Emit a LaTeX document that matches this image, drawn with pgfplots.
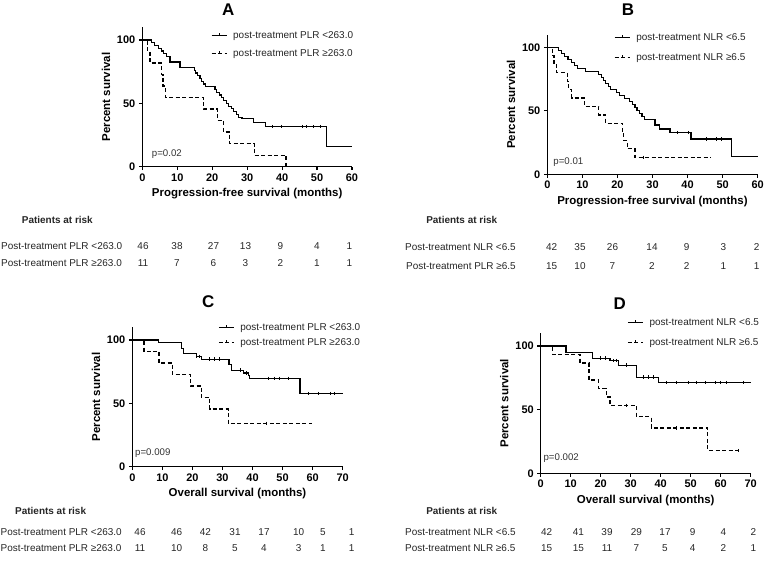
\documentclass[border=0pt]{standalone}
\usepackage{pgfplots}
\pgfplotsset{compat=1.18}
\usepackage{fontspec}
\setmainfont{Liberation Sans}
\newcommand{\lf}{\fontsize{10}{12}\selectfont}
\pgfplotsset{
 km/.style={
   scale only axis, axis lines=left, axis line style={-, line width=1.4bp},
   tick align=outside, major tick length=3.5bp, tick style={line width=1.2bp, black},
   ymin=0, ymax=110, ytick={0,50,100}, xmin=0, clip=false,
   tick label style={font=\bfseries\fontsize{11}{12}\selectfont},
   label style={font=\bfseries\fontsize{11.5}{13}\selectfont},
   ylabel={Percent survival},
   /pgf/number format/assume math mode=true,
   legend style={draw=none, fill=none, font=\lf, anchor=north west, inner sep=0pt, column sep=4bp, text=black!85},
   legend cell align=left,
   legend image code/.code={\draw[##1] (0bp,0bp) -- (15bp,0bp); \draw[##1,solid] (7.5bp,0bp) -- (7.5bp,2.5bp);},
 },
 kms/.style={black, line width=1.2bp, const plot, mark=none},
 kmd/.style={black, line width=1.2bp, const plot, mark=none, dash pattern=on 4bp off 2.5bp},
 cens/.style={only marks, mark=|, mark size=1.8bp, black, line width=0.8bp, forget plot},
}
\begin{document}
\begin{tikzpicture}[x=1bp,y=1bp]
% ---------- Panel A ----------
\begin{axis}[km, at={(142.3bp,401.3bp)}, anchor=south west, width=209.7bp, height=139.4bp,
  xmax=60, xtick={0,10,...,60}, xlabel={Progression-free survival (months)},
  legend style={at={(axis cs:19.6,108.5)}, row sep=5.5bp}]
\addplot[kms] coordinates {(0,100)(2.7,97.8)(3.4,95.7)(4.6,93.5)(5.5,91.3)(6.0,89.1)(7.0,86.9)(7.9,82.6)(10.8,78.3)(14.9,76.1)(15.3,73.9)(15.8,71.7)(16.5,69.6)(17.0,67.4)(17.6,65.2)(18.0,63.0)(20.8,60.9)(21.3,58.7)(22.0,56.5)(22.6,54.3)(23.2,52.2)(24.0,50.0)(24.6,47.8)(25.6,45.7)(26.2,43.5)(27.0,41.3)(27.6,39.1)(28.5,37.8)(31.8,35.0)(35.2,31.6)(52.6,15.8)(60,15.8)};
\addlegendentry{\lf post-treatment PLR <263.0}
\addplot[kmd] coordinates {(0,100)(1.6,90.9)(2.2,81.8)(5.5,72.7)(5.9,63.6)(6.6,54.5)(17.5,45.5)(21.5,36.4)(23.2,27.3)(25.0,18.2)(32.0,9.1)(41.1,0)};
\addlegendentry{\lf post-treatment PLR ≥263.0}
\addplot[cens] coordinates {(37.1,31.6)(39.9,31.6)(45.7,31.6)(46.9,31.6)(49,31.6)(50.9,31.6)};
\node[anchor=west, inner sep=0pt, font=\fontsize{9.7}{11}\selectfont, text=black!80] at (axis cs:2.7,9.8) {p=0.02};
\end{axis}
% ---------- Panel B ----------
\begin{axis}[km, at={(547.3bp,393.7bp)}, anchor=south west, width=210.4bp, height=139.7bp,
  xmax=60, xtick={0,10,...,60}, xlabel={Progression-free survival (months)},
  legend style={at={(axis cs:19.0,112.8)}, row sep=7.5bp}]
\addplot[kms] coordinates {(0,100)(3.1,97.6)(4.0,95.2)(5.0,92.9)(5.9,90.5)(6.8,88.1)(7.8,85.7)(8.5,83.3)(11.0,81.0)(14.5,78.6)(15.5,76.2)(16.0,73.8)(16.6,71.4)(17.5,69.0)(18.0,66.7)(19.8,64.3)(20.5,61.9)(22.0,59.5)(23.5,57.1)(24.2,54.8)(25.0,52.4)(25.6,50.0)(26.4,47.6)(27.0,45.2)(27.8,42.9)(30.7,38.8)(32.1,35.7)(35.0,32.8)(41.0,27.8)(52.6,13.9)(60,13.9)};
\addlegendentry{\lf post-treatment NLR <6.5}
\addplot[kmd] coordinates {(0,100)(1.5,93.3)(1.9,86.7)(2.7,80.0)(5.7,73.3)(6.1,66.7)(7.0,60.0)(10.6,53.3)(14.7,46.7)(16.7,40.0)(21.5,33.3)(21.8,26.7)(22.8,20.0)(25.0,13.3)(46.7,13.3)};
\addlegendentry{\lf post-treatment NLR ≥6.5}
\addplot[cens] coordinates {(37,32.8)(40.2,32.8)(45.4,27.8)(48.3,27.8)(49.7,27.8)(27.5,13.3)};
\node[anchor=west, inner sep=0pt, font=\fontsize{9.7}{11}\selectfont, text=black!80] at (axis cs:1.7,9.9) {p=0.01};
\end{axis}
% ---------- Panel C ----------
\begin{axis}[km, at={(132.3bp,101.3bp)}, anchor=south west, width=210.4bp, height=139.4bp,
  xmax=70, xtick={0,10,...,70}, xlabel={Overall survival (months)},
  legend style={at={(axis cs:28.5,114.6)}, row sep=2bp}]
\addplot[kms] coordinates {(0,100)(8.6,97.8)(16.3,93.5)(16.9,89.1)(21.3,87.0)(23.0,84.8)(32.2,80.4)(32.9,76.1)(36.9,73.9)(38.6,71.7)(39.1,69.6)(55.8,57.6)(70,57.6)};
\addlegendentry{\lf post-treatment PLR <263.0}
\addplot[kmd] coordinates {(0,100)(3.9,90.9)(8.9,81.8)(13.3,72.7)(19.3,63.6)(23.0,54.5)(25.8,45.5)(31.9,34.1)(59.9,34.1)};
\addlegendentry{\lf post-treatment PLR ≥263.0}
\addplot[cens] coordinates {(21.3,87.0)(22.4,87.0)(25.8,84.8)(27.4,84.8)(28.9,84.8)(35.8,76.1)(38,73.9)(45.2,69.6)(47.4,69.6)(49.1,69.6)(51.9,69.6)(58.6,57.6)(61.9,57.6)(65.8,57.6)(67.4,57.6)};
\addplot[cens] coordinates {(44.7,34.1)};
\node[anchor=west, inner sep=0pt, font=\fontsize{9.7}{11}\selectfont, text=black!80] at (axis cs:0.9,11) {p=0.009};
\end{axis}
% ---------- Panel D ----------
\begin{axis}[km, at={(540.7bp,94.7bp)}, anchor=south west, width=210bp, height=140bp,
  xmax=70, xtick={0,10,...,70}, xlabel={Overall survival (months)},
  legend style={at={(axis cs:28.8,123.5)}, row sep=7.5bp}]
\addplot[kms] coordinates {(0,100)(8.4,95.2)(17.3,90.5)(23.1,88.5)(25.9,85.0)(32.0,75.5)(39.2,71.2)(70,71.2)};
\addlegendentry{\lf post-treatment NLR <6.5}
\addplot[kmd] coordinates {(0,100)(4.0,93.3)(13.1,86.7)(16.1,73.3)(19.2,66.7)(21.8,60.0)(23.1,53.3)(32.0,44.4)(36.8,35.6)(55.7,17.8)(66.2,17.8)};
\addlegendentry{\lf post-treatment NLR ≥6.5}
\addplot[cens] coordinates {(19.8,90.5)(21.4,90.5)(24.2,88.5)(25.3,88.5)(28.7,85.0)(34.2,75.5)(35.9,75.5)(37.6,75.5)(42,71.2)(45.3,71.2)(49.2,71.2)(52,71.2)(54.8,71.2)(58.1,71.2)(59.8,71.2)(62,71.2)(67.6,71.2)};
\addplot[cens] coordinates {(28.7,53.3)(45.3,35.6)(65.9,17.8)};
\node[anchor=west, inner sep=0pt, font=\fontsize{9.7}{11}\selectfont, text=black!80] at (axis cs:0.9,11.8) {p=0.002};
\end{axis}
% ---------- Titles ----------
\begin{scope}[every node/.style={font=\bfseries\fontsize{17}{20}\selectfont, inner sep=0pt}]
\node at (228.3,558.5) {A};
\node at (628,558) {B};
\node at (208.3,266.3) {C};
\node at (619.7,264.7) {D};
\end{scope}
% ---------- Risk tables ----------
\begin{scope}[every node/.style={font=\fontsize{10}{12}\selectfont, inner sep=0pt, text=black!85}]
\node[anchor=mid west, font=\bfseries\fontsize{10}{12}\selectfont] at (21.7,347.3) {Patients at risk};
\node[anchor=mid west] at (1,321.3) {Post-treatment PLR <263.0};
\node[anchor=mid west] at (1,304) {Post-treatment PLR ≥263.0};
\foreach \x/\a/\b in {143/46/11,177/38/7,213.5/27/6,245.5/13/3,280.5/9/2,317/4/1,349.3/1/1}{
  \node[anchor=mid] at (\x,321.3) {\a};
  \node[anchor=mid] at (\x,304) {\b};
}
\node[anchor=mid, font=\bfseries\fontsize{10}{12}\selectfont] at (461.7,347.3) {Patients at risk};
\node[anchor=mid west] at (405,319.7) {Post-treatment NLR <6.5};
\node[anchor=mid west] at (406,301.3) {Post-treatment PLR ≥6.5};
\foreach \x/\a/\b in {551.7/42/15,580/35/10,612.5/26/7,652/14/2,686.7/9/2,723.3/3/1,756.7/2/1}{
  \node[anchor=mid] at (\x,319.7) {\a};
  \node[anchor=mid] at (\x,301.3) {\b};
}
\node[anchor=mid west, font=\bfseries\fontsize{10}{12}\selectfont] at (15,56.3) {Patients at risk};
\node[anchor=mid west] at (0.5,35.3) {Post-treatment PLR <263.0};
\node[anchor=mid west] at (0.5,18.7) {Post-treatment PLR ≥263.0};
\foreach \x/\a/\b in {140/46/11,176.7/46/10,205.3/42/8,235/31/5,264/17/4,298.6/10/3,323/5/1,351.7/1/1}{
  \node[anchor=mid] at (\x,35.3) {\a};
  \node[anchor=mid] at (\x,18.7) {\b};
}
\node[anchor=mid, font=\bfseries\fontsize{10}{12}\selectfont] at (461.7,56.3) {Patients at risk};
\node[anchor=mid west] at (405,35.3) {Post-treatment NLR <6.5};
\node[anchor=mid west] at (405,18.7) {Post-treatment NLR ≥6.5};
\foreach \x/\a/\b in {546.7/42/15,578.3/41/15,607/39/11,636.3/29/7,665/17/5,692.7/9/4,723.3/4/2,753.3/2/1}{
  \node[anchor=mid] at (\x,35.3) {\a};
  \node[anchor=mid] at (\x,18.7) {\b};
}
\end{scope}
\pgfresetboundingbox
\useasboundingbox (0,0) rectangle (764,568);
\end{tikzpicture}
\end{document}
